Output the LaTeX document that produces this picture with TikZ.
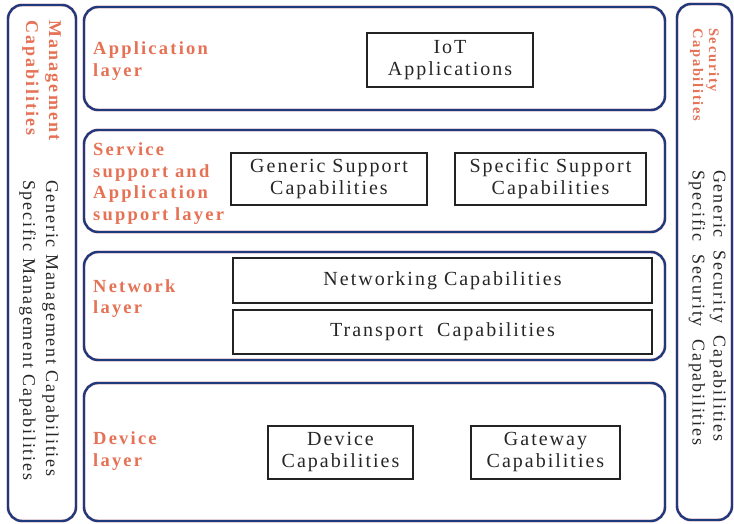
\documentclass[tikz,border=0pt]{standalone}
\usepackage{fontspec}
\setmainfont{Liberation Serif}
\newfontfamily\capfont[LetterSpace=10]{Liberation Serif}
\newfontfamily\sidefont[LetterSpace=10]{Liberation Serif}
\newfontfamily\layerfont[LetterSpace=12]{Liberation Serif Bold}

\definecolor{layerblue}{RGB}{30,58,125}
\definecolor{layerred}{RGB}{230,114,86}
\definecolor{boxline}{RGB}{35,35,35}

\tikzset{
  layer/.style={draw=layerblue, line width=2.4pt, rounded corners=14pt,
    preaction={draw=red!15, line width=3.4pt}, inner sep=0pt},
  capbox/.style={draw=boxline, line width=2.2pt, inner sep=0pt, align=center,
    text=black!85, font=\capfont\fontsize{20}{22}\selectfont},
  layername/.style={anchor=west, inner sep=0pt, align=left, text=layerred,
    font=\layerfont\fontsize{18.5}{21.5}\selectfont},
  sidetext/.style={anchor=west, inner sep=0pt, align=left, rotate=-90,
    text=black!85, font=\sidefont\fontsize{18}{23}\selectfont},
}

\begin{document}
\begin{tikzpicture}[x=1pt, y=-1pt]

\useasboundingbox[fill=white] (0,0) rectangle (734,524);

% Side panels
\node[layer, minimum width=68pt, minimum height=516pt] (mgmt) at (42,263) {};
\node[layer, minimum width=55pt, minimum height=516pt] (sec) at (704.5,262) {};

% Layers
\node[layer, minimum width=581pt, minimum height=103pt] (app) at (374.5,58.5) {};
\node[layer, minimum width=581pt, minimum height=102pt] (svc) at (374.5,181) {};
\node[layer, minimum width=581pt, minimum height=108pt] (net) at (374.5,306) {};
\node[layer, minimum width=581pt, minimum height=138pt] (dev) at (374.5,452) {};

% Layer names
\node[layername] (appname) at (93,61) {Application\\layer};
\node[layername] (svcname) at (93,183.5) {Service\\support and\\Application\\support layer};
\node[layername] (netname) at (93,298.5) {Network\\layer};
\node[layername] (devname) at (93,451) {Device\\layer};

% Capabilities
\node[capbox, minimum width=166pt, minimum height=54pt] (iot) at (450,60) {IoT\\Applications};
\node[capbox, minimum width=196pt, minimum height=52pt] (gensup) at (329,179) {Generic Support\\Capabilities};
\node[capbox, minimum width=191pt, minimum height=52pt] (specsup) at (550.5,179) {Specific Support\\Capabilities};
\node[capbox, minimum width=419pt, minimum height=45pt] (netcap) at (442.5,280.5) {Networking Capabilities};
\node[capbox, minimum width=419pt, minimum height=44pt] (transcap) at (442.5,332) {Transport\ \ Capabilities};
\node[capbox, minimum width=145pt, minimum height=53pt] (devcap) at (340.5,452.5) {Device\\Capabilities};
\node[capbox, minimum width=149pt, minimum height=53pt] (gwcap) at (545.5,452.5) {Gateway\\Capabilities};

% Side texts
\node[layername, rotate=-90, font=\layerfont\fontsize{18}{23}\selectfont] (mgmtname) at (41.5,20) {Management\\Capabilities};
\node[sidetext] (mgmtcap) at (39,180) {Generic Management Capabilities\\Specific Management Capabilities};
\node[layername, rotate=-90, font=\layerfont\fontsize{14.5}{16}\selectfont] (secname) at (704.5,28) {Security\\Capabilities};
\node[sidetext, font=\sidefont\fontsize{18}{21}\selectfont] (seccap) at (707.5,170) {Generic\ \ Security\ \ Capabilities\\Specific\ \ Security\ \ Capabilities};

\end{tikzpicture}
\end{document}
